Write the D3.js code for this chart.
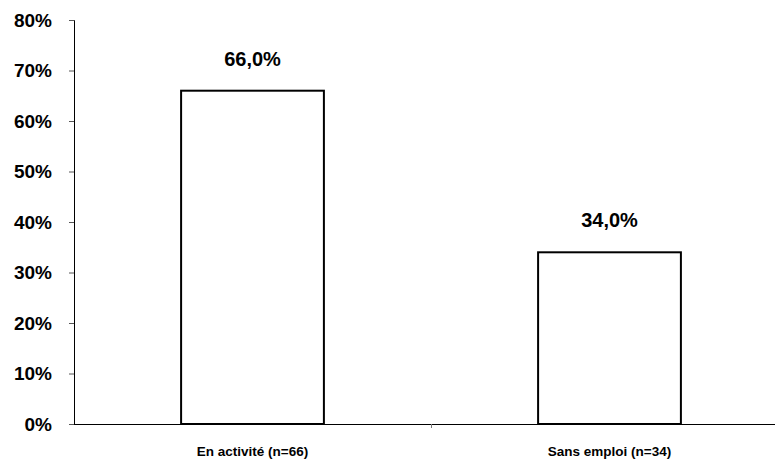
<!DOCTYPE html>
<html>
<head>
<meta charset="utf-8">
<script src="https://cdn.jsdelivr.net/npm/d3@7"></script>
<style>
  html, body { margin: 0; padding: 0; background: #fff; }
  svg { display: block; font-family: "Liberation Sans", Arial, sans-serif; }
</style>
</head>
<body>
<svg id="chart" width="775" height="462"></svg>
<script>
// Répartition selon la situation professionnelle
const categories = ["En activité (n=66)", "Sans emploi (n=34)"];
const values = [66.0, 34.0];
const yTicks = [0, 10, 20, 30, 40, 50, 60, 70, 80];

const svg = d3.select("#chart");
const plotLeft = 74, plotRight = 788, plotTop = 20, plotBottom = 424;

const x = d3.scaleBand()
  .domain(categories)
  .range([plotLeft, plotRight])
  .paddingInner(0.6)
  .paddingOuter(0.3);

const y = d3.scaleLinear()
  .domain([0, 80])
  .range([plotBottom, plotTop]);

const fmt = v => v.toFixed(1).replace(".", ",") + "%";

// Y axis
const yAxis = svg.append("g")
  .attr("transform", `translate(${plotLeft},0)`)
  .call(d3.axisLeft(y).tickValues(yTicks).tickFormat(d => d + "%").tickSize(5).tickPadding(17));
yAxis.select(".domain").attr("stroke", "#000").attr("stroke-width", 1);
yAxis.selectAll(".tick line").attr("stroke", "#555");
yAxis.selectAll(".tick text")
  .attr("font-size", 19)
  .attr("font-weight", "bold")
  .attr("fill", "#000")
  .attr("font-family", "'Liberation Sans', Arial, sans-serif");

// X axis baseline with ticks between categories
const step = x.step();
const boundaries = d3.range(categories.length + 1).map(i => plotLeft + i * step);
svg.append("line")
  .attr("x1", plotLeft).attr("x2", plotRight)
  .attr("y1", plotBottom + 0.5).attr("y2", plotBottom + 0.5)
  .attr("stroke", "#000").attr("stroke-width", 1);
svg.selectAll(".xtick")
  .data(boundaries.slice(1))
  .join("line")
  .attr("class", "xtick")
  .attr("x1", d => d + 0.5).attr("x2", d => d + 0.5)
  .attr("y1", plotBottom).attr("y2", plotBottom + 4)
  .attr("stroke", "#777").attr("stroke-width", 1);

// Bars
svg.selectAll(".bar")
  .data(values)
  .join("rect")
  .attr("class", "bar")
  .attr("x", (d, i) => x(categories[i]))
  .attr("y", d => y(d))
  .attr("width", x.bandwidth())
  .attr("height", d => y(0) - y(d))
  .attr("fill", "#fff")
  .attr("stroke", "#000")
  .attr("stroke-width", 2);

// Value labels
svg.selectAll(".val")
  .data(values)
  .join("text")
  .attr("class", "val")
  .attr("x", (d, i) => x(categories[i]) + x.bandwidth() / 2)
  .attr("y", d => y(d) - 25)
  .attr("text-anchor", "middle")
  .attr("font-size", 20)
  .attr("font-weight", "bold")
  .attr("fill", "#000")
  .text(fmt);

// Category labels
svg.selectAll(".cat")
  .data(categories)
  .join("text")
  .attr("class", "cat")
  .attr("x", d => x(d) + x.bandwidth() / 2)
  .attr("y", 456)
  .attr("text-anchor", "middle")
  .attr("font-size", 13.5)
  .attr("font-weight", "bold")
  .attr("fill", "#000")
  .text(d => d);
</script>
</body>
</html>
